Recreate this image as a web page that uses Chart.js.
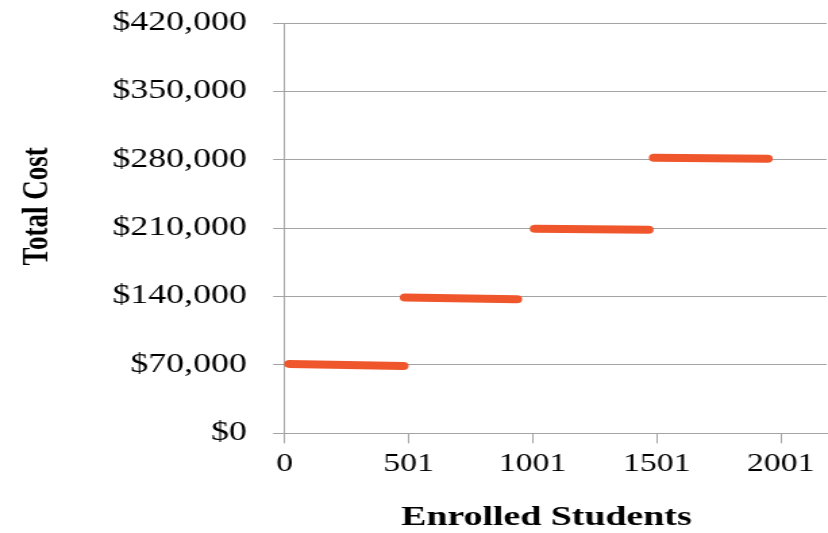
<!DOCTYPE html>
<html>
<head>
<meta charset="utf-8">
<script src="https://cdn.jsdelivr.net/npm/chart.js@4.4.1/dist/chart.umd.min.js"></script>
<style>
  html, body { margin: 0; padding: 0; background: #fff; overflow: hidden; }
  /* the reference is stretched sideways, so the chart is drawn narrow and widened */
  #wrap { width: 613px; height: 533px; transform: scaleX(1.3507); transform-origin: 0 0; }
</style>
</head>
<body>
<div id="wrap"><canvas id="costChart" width="613" height="533"></canvas></div>
<script>
// Step segments: enrolled students (start/end) and total cost (start/end)
const segStart  = [20, 486, 1010, 1490];
const segEnd    = [478, 936, 1466, 1946];
const costStart = [71000, 139000, 209300, 282000];
const costEnd   = [69000, 137300, 208300, 281000];

// Axis ticks
const xTickValues = [0, 500, 1000, 1500, 2000];
const xTickLabels = ['0', '501', '1001', '1501', '2001'];
const yTickValues = [0, 70000, 140000, 210000, 280000, 350000, 420000];

const xTitle = 'Enrolled Students';
const yTitle = 'Total Cost';

const lineColor = '#f0562c';
const gridColor = '#a3a3a3';
const serif = '"Liberation Serif", "Times New Roman", serif';

const datasets = segStart.map((x0, i) => ({
  label: 'Step ' + (i + 1),
  data: [{ x: x0, y: costStart[i] }, { x: segEnd[i], y: costEnd[i] }],
  borderColor: lineColor,
  borderWidth: 8,
  borderCapStyle: 'round',
  pointRadius: 0,
  tension: 0,
  clip: false
}));

// Axis titles sit a bit off-centre in the original, so draw them here
const axisTitles = {
  id: 'axisTitles',
  afterDraw(chart) {
    const { ctx, chartArea } = chart;
    const w = chartArea.right - chartArea.left;
    const h = chartArea.bottom - chartArea.top;
    ctx.save();
    ctx.fillStyle = '#000';
    ctx.textAlign = 'center';
    ctx.textBaseline = 'middle';

    ctx.font = 'bold 28px ' + serif;
    ctx.fillText(xTitle, chartArea.left + w * 0.483, 518);

    ctx.font = 'bold 27px ' + serif;
    ctx.translate(27.8, chartArea.top + h * 0.447);
    ctx.rotate(-Math.PI / 2);
    ctx.fillText(yTitle, 0, 0);
    ctx.restore();
  }
};

const ctx = document.getElementById('costChart').getContext('2d');
new Chart(ctx, {
  type: 'line',
  data: { datasets },
  plugins: [axisTitles],
  options: {
    responsive: false,
    animation: false,
    events: [],
    layout: { padding: { top: 23, right: 1, left: 0, bottom: 0 } },
    plugins: {
      legend: { display: false },
      tooltip: { enabled: false }
    },
    scales: {
      x: {
        type: 'linear',
        min: 0,
        max: 2185,
        afterBuildTicks: (scale) => { scale.ticks = xTickValues.map(v => ({ value: v })); },
        afterFit: (scale) => { scale.height = 99.7; },
        grid: { drawOnChartArea: false, tickLength: 10, color: gridColor },
        border: { color: gridColor },
        ticks: {
          autoSkip: false,
          maxRotation: 0,
          padding: 6,
          color: '#000',
          font: { family: serif, size: 25 },
          callback: (v, i) => xTickLabels[i]
        }
      },
      y: {
        min: 0,
        max: 420000,
        afterBuildTicks: (scale) => { scale.ticks = yTickValues.map(v => ({ value: v })); },
        afterFit: (scale) => {
          scale.width = 210.7;
          scale.paddingTop = 0;
          scale.paddingBottom = 0;
        },
        grid: { tickLength: 8.5, color: gridColor },
        border: { color: gridColor },
        ticks: {
          padding: 19.5,
          color: '#000',
          font: { family: serif, size: 26.5 },
          callback: (v) => '$' + Number(v).toLocaleString('en-US')
        }
      }
    }
  }
});
</script>
</body>
</html>
